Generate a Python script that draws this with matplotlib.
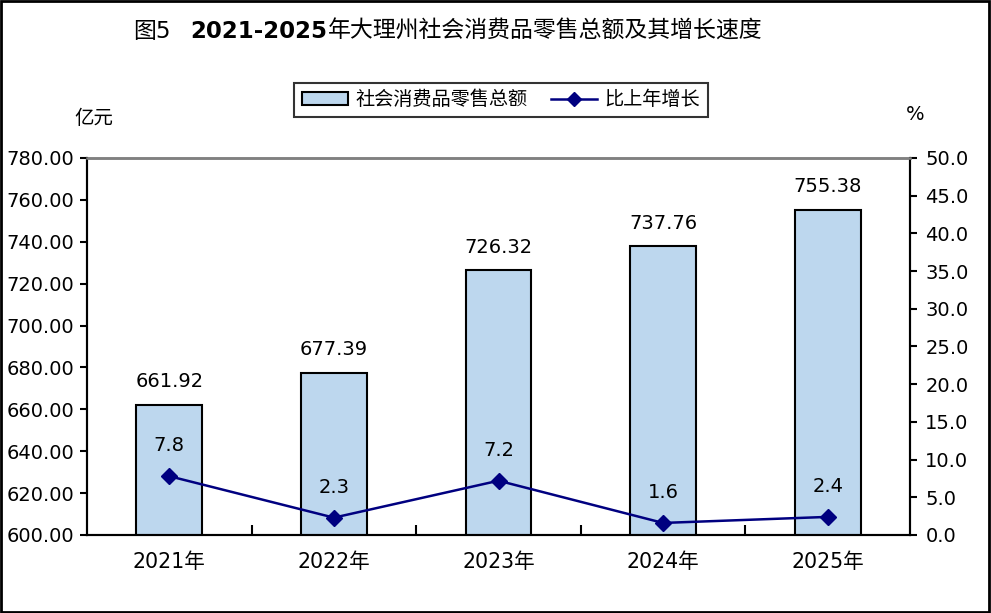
import matplotlib
matplotlib.use("Agg")
import matplotlib.pyplot as plt
from matplotlib.patches import Rectangle, Patch
from matplotlib.lines import Line2D
from matplotlib.ticker import FixedLocator, FormatStrFormatter

plt.rcParams['font.family'] = ['DejaVu Sans', 'Noto Sans CJK SC']

years = ["2021年", "2022年", "2023年", "2024年", "2025年"]
sales = [661.92, 677.39, 726.32, 737.76, 755.38]
growth = [7.8, 2.3, 7.2, 1.6, 2.4]

bar_label = "社会消费品零售总额"
line_label = "比上年增长"
left_unit = "亿元"
right_unit = "%"

fig = plt.figure(figsize=(9.91, 6.13), dpi=100)
ax = fig.add_axes([87/991, 78/613, 823/991, 377/613])
ax2 = ax.twinx()

x = list(range(len(years)))
bars = ax.bar(x, sales, width=0.4, color="#BDD7EE", edgecolor="black", linewidth=1.5, zorder=2)
ax.set_xlim(-0.5, 4.5)
ax.set_ylim(600, 780)
ax.yaxis.set_major_locator(FixedLocator([600 + 20*i for i in range(10)]))
ax.yaxis.set_major_formatter(FormatStrFormatter("%.2f"))
ax.set_xticks(x)
ax.set_xticklabels(years, fontsize=14.8)
ax.set_xticks([0.5, 1.5, 2.5, 3.5], minor=True)
ax.tick_params(axis='x', which='major', length=0, pad=12)
ax.tick_params(axis='x', which='minor', direction='in', length=7, width=1.5, color='black')
ax.tick_params(axis='y', which='major', direction='out', length=5, width=1.5, labelsize=14, pad=4)

for v, xi in zip(sales, x):
    ax.annotate(f"{v:.2f}", (xi, v), xytext=(0, 10), textcoords='offset points',
                ha='center', va='bottom', fontsize=14)

ax2.plot(x, growth, color="#000080", linewidth=1.8, marker='D', markersize=8, zorder=3)
ax2.set_ylim(0, 50)
ax2.yaxis.set_major_locator(FixedLocator([5*i for i in range(11)]))
ax2.yaxis.set_major_formatter(FormatStrFormatter("%.1f"))
ax2.tick_params(axis='y', which='major', direction='out', length=5, width=1.5, labelsize=14, pad=6)
for v, xi in zip(growth, x):
    ax2.annotate(f"{v:.1f}", (xi, v), xytext=(0, 22), textcoords='offset points',
                 ha='center', va='center', fontsize=14)

for a in (ax, ax2):
    for s in ('left', 'right', 'bottom'):
        a.spines[s].set_linewidth(1.5)
        a.spines[s].set_color('black')
    a.spines['top'].set_color('#808080')
    a.spines['top'].set_linewidth(1.8)

# units
fig.text(94/991, 1 - 118/613, left_unit, fontsize=14, ha='center', va='center')
fig.text(915/991, 1 - 115/613, right_unit, fontsize=14, ha='center', va='center')

# legend
handles = [Patch(facecolor="#BDD7EE", edgecolor="black", linewidth=1.5),
           Line2D([0], [0], color="#000080", linewidth=1.8, marker='D', markersize=7)]
leg = fig.legend(handles, [bar_label, line_label], loc='center',
                 bbox_to_anchor=(501/991, 1 - 100/613), ncol=2, fontsize=13.8,
                 frameon=True, fancybox=False, edgecolor='black', borderpad=0.4,
                 handlelength=2.4, columnspacing=1.2, handletextpad=0.4)
leg.get_frame().set_linewidth(1.5)

# title pieces
fig.canvas.draw()
renderer = fig.canvas.get_renderer()
ty = 1 - 31/613
t1 = fig.text(133/991, ty, "图5", fontsize=16.5, ha='left', va='center')
t2 = fig.text(190/991, ty, "2021-2025", fontsize=16.5, fontweight='bold', ha='left', va='center')
bb = t2.get_window_extent(renderer)
t3 = fig.text(bb.x1/991 + 0.001, ty, "年大理州社会消费品零售总额及其增长速度", fontsize=16.5,
              ha='left', va='center')

# figure border
fig.patches.append(Rectangle((0.001, 0.002), 0.997, 0.996, transform=fig.transFigure,
                             fill=False, edgecolor='black', linewidth=2))

fig.savefig("out.png", dpi=100)
